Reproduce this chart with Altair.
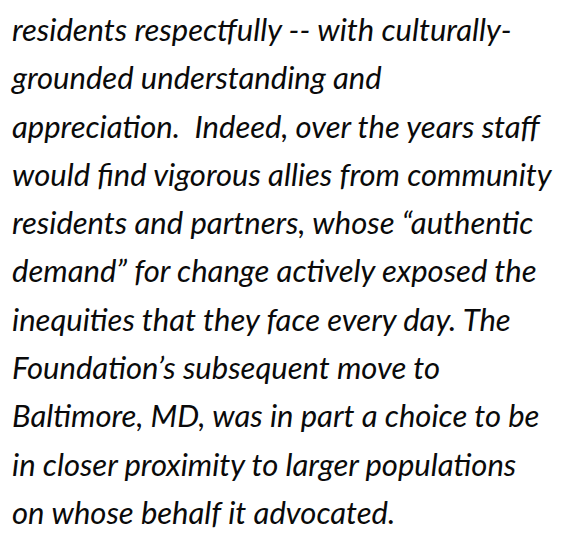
import altair as alt
import pandas as pd

lines = [
    "residents respectfully -- with culturally-",
    "grounded understanding and",
    "appreciation.\u00a0 Indeed, over the years staff",
    "would find vigorous allies from community",
    "residents and partners, whose \u201cauthentic",
    "demand\u201d for change actively exposed the",
    "inequities that they face every day. The",
    "Foundation\u2019s subsequent move to",
    "Baltimore, MD, was in part a choice to be",
    "in closer proximity to larger populations",
    "on whose behalf it advocated.",
]
idx = list(range(len(lines)))

df = pd.DataFrame({"idx": idx, "text": lines})

W, H = 550, 526
chart = alt.Chart(df).mark_text(
    align="left", baseline="alphabetic", font="Lato", fontStyle="italic",
    fontSize=31, color="#0a0a0a"
).encode(
    x=alt.value(4),
    y=alt.Y("idx:Q", scale=alt.Scale(domain=[-0.683, 10.207], reverse=True), axis=None),
    text="text:N",
).properties(width=W, height=H, padding=0, autosize="none").configure_view(stroke=None)

chart.save("out.html", embed_options={"renderer": "svg", "actions": False})
